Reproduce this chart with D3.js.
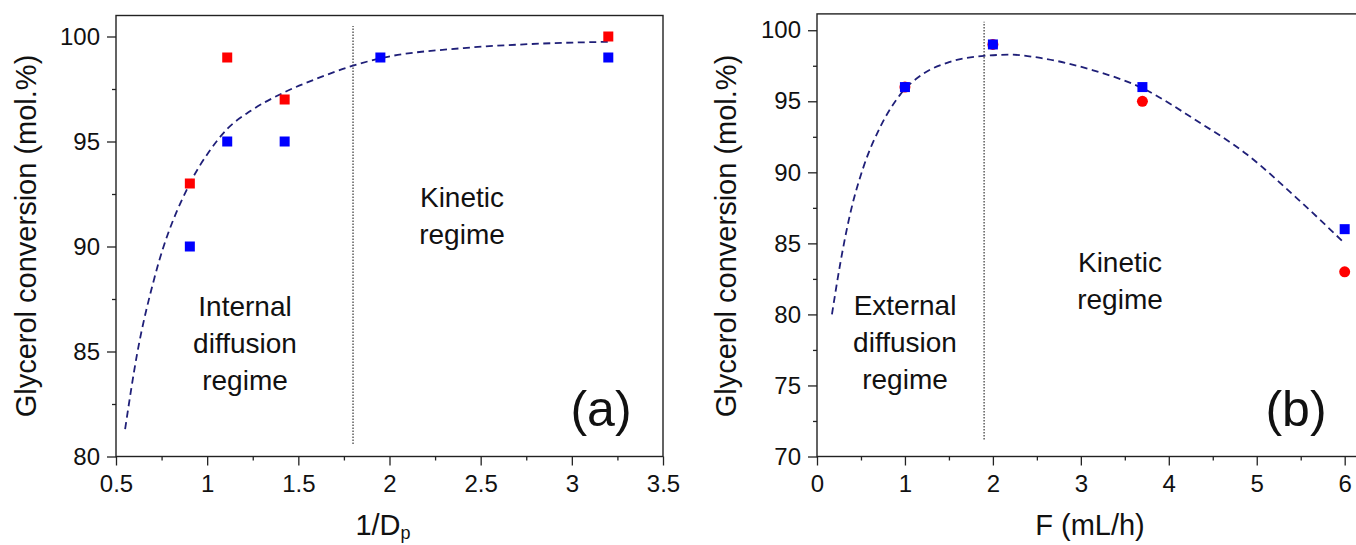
<!DOCTYPE html>
<html>
<head>
<meta charset="utf-8">
<script src="https://cdn.jsdelivr.net/npm/d3@7"></script>
<style>
body { margin: 0; background: #fff; }
svg text { font-family: "Liberation Sans", Arial, sans-serif; fill: #111; }
</style>
</head>
<body>
<svg width="1356" height="545"></svg>
<script>
// (a) conversion vs 1/Dp
const dpRedX = [0.905, 1.11, 1.425, 3.2];
const dpRedY = [93, 99, 97, 100];
const dpBlueX = [0.905, 1.11, 1.425, 1.95, 3.2];
const dpBlueY = [90, 95, 95, 99, 99];
// fitted trend
const dpFitX = [0.55, 0.615, 0.71, 0.905, 1.009, 1.11, 1.237, 1.425, 1.603, 1.795, 1.95, 2.407, 2.773, 3.22];
const dpFitY = [81.3, 84.85, 88.48, 93.0, 94.5, 95.6, 96.45, 97.35, 98.0, 98.6, 98.96, 99.45, 99.64, 99.75];
const dpTicksX = [0.5, 1, 1.5, 2, 2.5, 3, 3.5];
const dpTicksY = [80, 85, 90, 95, 100];

// (b) conversion vs F
const fRedX = [1, 2, 3.7, 6];
const fRedY = [96, 99, 95, 83];
const fBlueX = [1, 2, 3.7, 6];
const fBlueY = [96, 99, 96, 86];
const fFitX = [0.17, 0.265, 0.378, 0.53, 0.72, 0.95, 1.2, 1.5, 1.9, 2.2, 2.54, 3.13, 3.69, 4.3, 4.89, 5.47, 6.0];
const fFitY = [80.0, 83.6, 87.1, 90.4, 93.2, 95.5, 96.9, 97.75, 98.2, 98.28, 98.05, 97.2, 95.95, 93.7, 91.25, 88.1, 85.0];
const fTicksX = [0, 1, 2, 3, 4, 5, 6];
const fTicksY = [70, 75, 80, 85, 90, 95, 100];

const svg = d3.select("svg");
const zip = (xs, ys) => xs.map((x, i) => [x, ys[i]]);

function panel(cfg) {
	const x = d3.scaleLinear().domain(cfg.xDom).range(cfg.xRange);
	const y = d3.scaleLinear().domain(cfg.yDom).range(cfg.yRange);
	const g = svg.append("g");

	// minor ticks first
	g.append("g").attr("transform", `translate(0,${cfg.yRange[0]})`)
		.call(d3.axisBottom(x).tickValues(cfg.xMinor).tickSize(4).tickFormat(""));
	g.append("g").attr("transform", `translate(${cfg.xRange[0]},0)`)
		.call(d3.axisLeft(y).tickValues(cfg.yMinor).tickSize(4).tickFormat(""));

	g.append("g").attr("class", "ax").attr("transform", `translate(0,${cfg.yRange[0]})`)
		.call(d3.axisBottom(x).tickValues(cfg.xTicks).tickSize(9).tickPadding(9).tickFormat(d => String(d)));
	g.append("g").attr("class", "ax").attr("transform", `translate(${cfg.xRange[0]},0)`)
		.call(d3.axisLeft(y).tickValues(cfg.yTicks).tickSize(9).tickPadding(7).tickFormat(d => String(d)));

	g.selectAll(".domain").remove();
	g.selectAll(".tick line").attr("stroke", "#222").attr("stroke-width", 1.3);
	g.selectAll(".ax text").attr("font-size", 24).attr("font-family", null).attr("fill", "#111");

	// frame
	g.append("rect")
		.attr("x", cfg.xRange[0]).attr("y", cfg.yRange[1])
		.attr("width", cfg.xRange[1] - cfg.xRange[0])
		.attr("height", cfg.yRange[0] - cfg.yRange[1])
		.attr("fill", "none").attr("stroke", "#222").attr("stroke-width", 1.4);

	// regime boundary
	g.append("line")
		.attr("x1", x(cfg.split)).attr("x2", x(cfg.split))
		.attr("y1", y(cfg.splitY[0])).attr("y2", y(cfg.splitY[1]))
		.attr("stroke", "#444").attr("stroke-width", 1.3).attr("stroke-dasharray", "1.5,1.5");

	// trend
	g.append("path")
		.datum(cfg.fit)
		.attr("d", d3.line().x(d => x(d[0])).y(d => y(d[1])).curve(d3.curveMonotoneX))
		.attr("fill", "none").attr("stroke", "#1f1f78").attr("stroke-width", 1.8)
		.attr("stroke-dasharray", "7,4.5");

	// red series
	if (cfg.redShape == "circle") {
		g.selectAll(".red").data(cfg.red).enter().append("circle")
			.attr("cx", d => x(d[0])).attr("cy", d => y(d[1])).attr("r", 5.5)
			.attr("fill", "#ff0000");
	} else {
		g.selectAll(".red").data(cfg.red).enter().append("rect")
			.attr("x", d => x(d[0]) - 5).attr("y", d => y(d[1]) - 5)
			.attr("width", 10).attr("height", 10).attr("fill", "#ff0000");
	}
	// blue series
	g.selectAll(".blue").data(cfg.blue).enter().append("rect")
		.attr("x", d => x(d[0]) - 5).attr("y", d => y(d[1]) - 5)
		.attr("width", 10).attr("height", 10).attr("fill", "#0000ff");

	// titles
	g.append("text")
		.attr("transform", `translate(${cfg.yTitleX},236) rotate(-90)`)
		.attr("text-anchor", "middle").attr("font-size", 29)
		.text("Glycerol conversion (mol.%)");
	const xt = g.append("text")
		.attr("x", cfg.xTitleX).attr("y", 535)
		.attr("text-anchor", "middle").attr("font-size", 29);
	xt.append("tspan").text(cfg.xTitle);
	if (cfg.xSub) {
		xt.append("tspan").attr("font-size", 18).attr("dy", 4).text(cfg.xSub);
	}

	// region labels
	cfg.labels.forEach(l => {
		l.lines.forEach((t, i) => {
			g.append("text").attr("x", l.x).attr("y", l.y + i * 37)
				.attr("text-anchor", "middle").attr("font-size", 28).text(t);
		});
	});
	g.append("text").attr("x", cfg.tag[0]).attr("y", cfg.tag[1])
		.attr("text-anchor", "middle").attr("font-size", 50).text(cfg.tag[2]);
}

panel({
	xDom: [0.5, 3.5], xRange: [116, 663],
	yDom: [80, 101], yRange: [456.5, 15.5],
	xTicks: dpTicksX, yTicks: dpTicksY,
	xMinor: d3.range(0.75, 3.5, 0.5), yMinor: [82.5, 87.5, 92.5, 97.5],
	split: 1.8, splitY: [80.6, 100.5],
	fit: zip(dpFitX, dpFitY),
	red: zip(dpRedX, dpRedY), redShape: "square",
	blue: zip(dpBlueX, dpBlueY),
	yTitleX: 36, xTitleX: 383, xTitle: "1/D", xSub: "p",
	labels: [
		{ x: 245, y: 316, lines: ["Internal", "diffusion", "regime"] },
		{ x: 462, y: 207, lines: ["Kinetic", "regime"] }
	],
	tag: [601, 426, "(a)"]
});

panel({
	xDom: [0, 6.14], xRange: [817, 1357],
	yDom: [70, 101.15], yRange: [456.5, 13.9],
	xTicks: fTicksX, yTicks: fTicksY,
	xMinor: d3.range(0.5, 6.1, 1), yMinor: [72.5, 77.5, 82.5, 87.5, 92.5, 97.5],
	split: 1.9, splitY: [71.2, 100.6],
	fit: zip(fFitX, fFitY),
	red: zip(fRedX, fRedY), redShape: "circle",
	blue: zip(fBlueX, fBlueY),
	yTitleX: 736, xTitleX: 1090, xTitle: "F (mL/h)",
	labels: [
		{ x: 905, y: 315, lines: ["External", "diffusion", "regime"] },
		{ x: 1120, y: 272, lines: ["Kinetic", "regime"] }
	],
	tag: [1296, 426, "(b)"]
});
</script>
</body>
</html>
